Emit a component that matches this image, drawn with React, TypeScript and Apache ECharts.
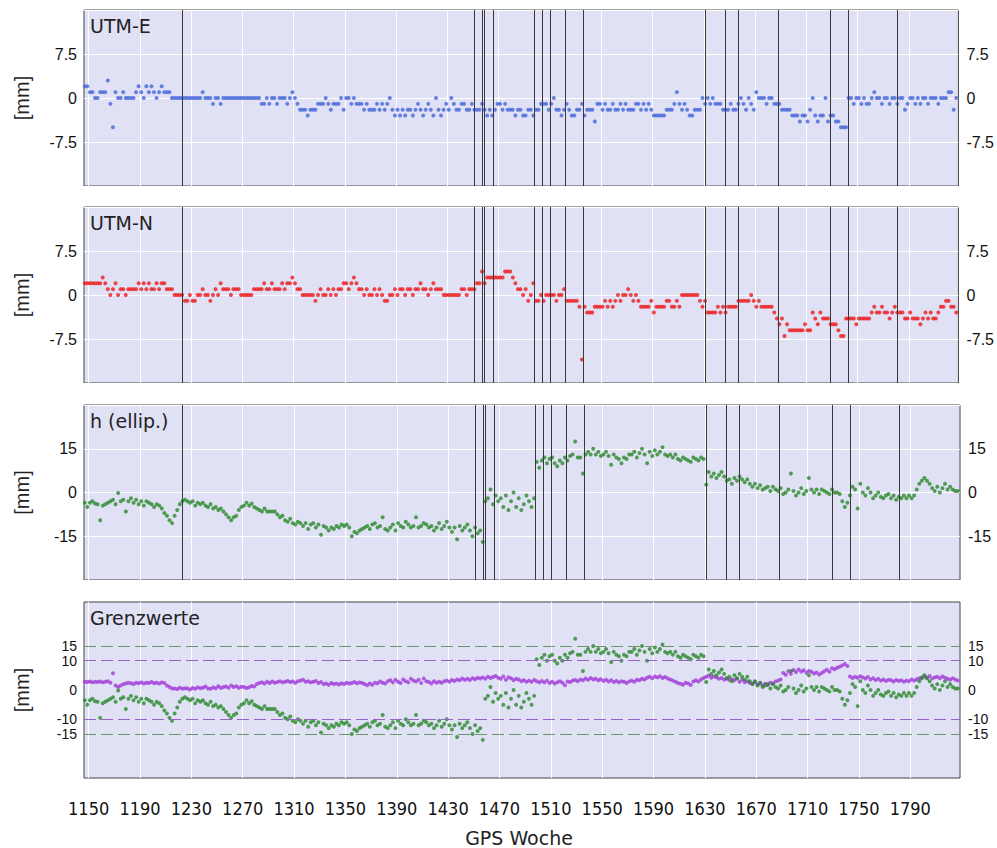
import React, { useEffect, useRef } from "react";
import * as echarts from "echarts";

// GPS weeks: one point every 2 weeks starting at week 1147
const WEEK_START = 1147;
const WEEK_STEP = 2;
const X_MIN = 1146.4;
const X_MAX = 1828.7;
const X_TICKS = [1150, 1190, 1230, 1270, 1310, 1350, 1390, 1430, 1470, 1510, 1550, 1590, 1630, 1670, 1710, 1750, 1790];

// vertical event markers (GPS weeks)
const EVENT_WEEKS = [1223, 1451, 1457, 1459, 1466, 1498, 1504, 1510, 1522, 1536, 1631, 1647, 1657, 1688, 1729, 1743, 1781];

const PANEL_TITLES = ["UTM-E", "UTM-N", "h (ellip.)", "Grenzwerte"];
const Y_LABELS_LIMITS_A = [-15, 0, 15];
const Y_LABELS_LIMITS_B = [-10, 10];
const LIMIT_H = 15;
const LIMIT_2D = 10;

// UTM-E [mm]
const UTM_E = [
  2, 2, 1, 1, 0, 0, 1, 1, 1, 3, -1, -5, 1, 0, 0, 1, 0, 0, 0, 0,
  1, 2, 1, 0, 2, 1, 2, 1, 0, 1, 2, 1, 1, 1, 0, 0, 0, 0, 0, 0,
  0, 0, 0, 0, 0, 0, 1, 0, 0, 0, -1, 0, 0, -1, 0, 0, 0, 0, 0,
  0, 0, 0, 0, 0, 0, 0, 0, 0, 0, -1, -1, 0, -1, 0, 0, -1, 0, 0, 0,
  -1, 0, 1, 0, -1, -2, -2, -2, -3, -2, -2, -2, -1, -1, -1, 0, -1, -2, -1, -1,
  -1, 0, -2, 0, 0, -1, 0, -1, -1, -1, -2, -1, -2, -2, -2, -1, -2, -1, -2, -1,
  0, -2, -3, -2, -3, -2, -3, -2, -2, -3, -2, -1, -2, -3, -2, -1, -2, -3, 0, -2,
  -3, -2, -1, -2, 0, -1, -2, -2, -1, -1, -2, -2, -1, -2, -2, -2, -1, -2, -3, -2,
  -3, -2, -1, -1, -2, -1, -2, -2, -2, -3, -2, -2, -3, -3, -2, -2, -3, -2, -2, -1,
  -1, -1, -2, -1, 0, -2, -2, -3, -2, -1, -2, -3, -3, -2,
  -2, -1, -3, -2, -2, -2, -4, -1, -1, -2, -1, -2, -2, -1, -2, -2, -1, -2, -1, -2,
  -2, -2, -1, -1, -2, -1, -2, -1, -2, -3, -3, -3, -3, -3, -2, -2, -2, -1, 1, -1,
  -2, -1, -2, -3, -3, -2, -2, -2, 0, -1, 0, -1, 0, -1, -1, -1, -2, -2, -2, -1,
  -2, -2, -1, 0, -1, -2, 0, -1, -2, 1, 0, 0, 0, -1, 0, 0, -1, -1, -1, -2,
  -2, -2, -2, -3, -3, -3, -4, -3, -3, -4, -2, 0, -3, -4, -3, -3, 0, -4, -3, -3,
  -4, -4, -5, -5, -5, 0, 0, -1, 0, 0, -1, 0, -1, -1, 0, 1, 0, 0, -1, 0,
  0, -1, 0, 0, -1, 0, 0, -2, -1, 0, 0, -1, 0, -1, 0, 0, -1, 0, 0,
  0, -1, 0, 0, 0, 1, 1, -2, 0,
];

// UTM-N [mm]
const UTM_N = [
  2, 2, 2, 2, 2, 2, 2, 3, 2, 1, 0, 1, 2, 0, 1, 1, 0, 1, 1, 1,
  1, 2, 1, 2, 1, 2, 1, 1, 2, 1, 2, 2, 1, 1, 1, 0, 0, 0, 0, -1,
  -1, 0, -1, -1, 0, 0, 1, 0, 0, -1, 0, 1, 0, 2, 1, 1, 1, 0, 1,
  1, 1, 0, 0, 0, 0, 0, 1, 1, 1, 1, 2, 1, 1, 2, 1, 1, 1, 2, 1,
  2, 2, 3, 2, 1, 1, 0, 0, 0, 0, 0, -1, 0, 1, 0, 0, 1, 0, 1, 0,
  1, 1, 2, 2, 1, 2, 3, 2, 1, 1, 0, 1, 0, 0, 1, 0, 1, 0, -1, -1,
  0, 0, 1, 0, 1, 1, 0, 1, 1, 0, 1, 1, 2, 1, 1, 0, 1, 2, 1, 1,
  1, 0, 0, 0, 0, 0, 0, 0, 1, 1, 0, 1, 1, 1, 2, 2, 4, 2, 3, 3,
  3, 3, 3, 3, 3, 4, 4, 4, 3, 2, 1, 1, 0, 1, -1, 0, 2, -1, -1, 0,
  -1, 0, 0, 0, 0, -1, 0, 0, 1, -1, -1, -1, -1, -1,
  -2, -11, -2, -3, -3, -3, -2, -2, -2, -2, -1, -2, -1, -2, -1, 0, -1, 0, 0, 1,
  0, -1, 0, -1, -2, -2, -2, -2, -1, -3, -2, -2, -2, -2, -1, -1, -2, -2, -1, -2,
  0, 0, 0, 0, 0, 0, 0, -1, -2, -1, -3, -3, -3, -3, -2, -3, -2, -3, -2, -2,
  -2, -2, -1, -1, -1, -1, -1, 0, -1, -2, -1, -2, -2, -2, -2, -2, -3, -4, -5, -4,
  -7, -5, -6, -6, -6, -6, -6, -6, -5, -6, -6, -3, -4, -5, -3, -4, -4, -4, -5, -5,
  -5, -6, -7, -7, -4, -4, -4, -4, -5, -4, -4, -4, -4, -4, -3, -2, -3, -3, -2, -3,
  -3, -4, -3, -2, -3, -3, -3, -4, -4, -3, -4, -4, -4, -5, -4, -3, -4, -3, -4,
  -4, -3, -2, -2, -1, -1, -2, -2, -3,
];

// h (ellipsoidal) [mm]
const HEIGHT = [
  -3.5, -5, -3.5, -3, -3.8, -4, -9.5, -4.5, -4, -3.5, -3, -2.5, -4, -0.2, -3, -2.5, -6.5, -3, -2, -3.5,
  -2.5, -4, -3, -4.5, -3, -3.5, -4, -5, -4, -4.5, -5.5, -7, -8, -9.5, -10.5, -8, -6, -4, -3, -2.5,
  -3, -3.5, -3, -4.5, -3.5, -4, -3.5, -4.5, -5, -4, -5.5, -5, -6, -5.5, -6.5, -7.5, -8.5, -9.5, -8.5,
  -8, -6, -5, -4.5, -3.5, -4.5, -3.8, -5, -5.5, -6, -6.5, -5.5, -6.5, -6.5, -6.5, -6.5, -7.5, -8.5, -8, -9.5,
  -10, -9, -10.5, -11, -10, -10.5, -11.5, -10.5, -12.5, -11, -10.5, -12, -11, -14.5, -11.5, -12, -13, -12, -12.5, -11.5,
  -12, -11, -11.5, -11, -12, -15, -13.5, -14, -13, -12.5, -12, -11.5, -12.5, -11, -10.5, -12, -11.5, -8.5, -12.5, -13,
  -12, -11, -13, -10.5, -11.5, -12, -10, -11, -12, -11.5, -8.5, -12, -11.5, -10.5, -11, -12, -11.5, -13, -12, -10.5,
  -12.5, -11.5, -10, -12, -13.5, -12, -16, -11.5, -13, -12, -11, -13, -15, -12, -14, -13, -17, -3, -2, 1,
  -4, -1, -3, -2, -5, -1, -6, -3, 0, -5, -2, -6, -4, -1, -3, -5, -2, 10.5, 8.5, 11,
  12, 10, 11.5, 12, 10, 9, 11, 10, 12, 11, 12.5, 13, 17.5, 12,
  12, 6.5, 13, 14, 13, 15, 13, 14, 12.5, 13, 14, 12.5, 9.5, 13, 12, 11.5, 10, 12, 11.5, 13,
  13, 14, 12, 13.5, 15, 13, 10, 14, 12.5, 14.5, 13, 14, 15.5, 13, 12.5, 13, 12, 13, 11.5, 11,
  12, 11.5, 11, 10.5, 12, 11.5, 11, 12, 11.5, 2.7, 7, 5.5, 6.5, 5, 6, 7, 5.5, 4, 4.5, 3,
  5, 4, 5.5, 4.5, 3.5, 4.5, 3, 2, 3, 1.5, 2.5, 1, 1.5, 2, 0.5, 2, 1, 0.5, 1.5, -0.5,
  0, 1, 6.5, 0.5, -1, 0, 1.5, -0.5, 0.5, 5, 1, 0, 1, -0.5, 1, 0.5, 0, -0.5, 1, 0,
  0, -0.5, -3, -5, -3.5, -1, 2, 1, -5.5, 3, 0, -1, 1.5, 0, -2, -1, 0, -1.5, -2, -1,
  -0.5, -2, -1, -2.5, -1.5, -2, -1, -2, -1, -2, -1, 1, 3, 4, 5, 4, 3, 1.5, 0.5,
  2, 0, 1.5, 3, 1, 2, 1, 0.5, 0.5,
];

// 2D position deviation [mm] (purple, Grenzwerte panel)
const POS_2D = [
  2.8, 2.7, 2.9, 2.6, 2.8, 2.7, 2.9, 2.6, 2.8, 3, 2.5, 5.7, 1.5, 1, 1.5, 2, 2.2, 2.5, 2.3, 2,
  2.5, 2.3, 2.6, 2.2, 2.5, 2.4, 2.7, 2.3, 2.5, 2.2, 2.6, 2.4, 1.5, 1, 0.5, 0.5, 0.3, 0.8, 0.4, 0.6,
  0.5, 0.2, 0.7, 0.4, 0.9, 0.6, 0.8, 1.2, 0.5, 0.4, 0.9, 0.6, 1.3, 0.7, 1, 1.2, 0.8, 1.5, 1,
  1.3, 0.8, 1.1, 1, 0.7, 0.9, 1.4, 1.2, 2, 2.4, 2.6, 2.2, 2.8, 2.4, 2.9, 2.5, 2.7, 3, 2.6, 2.8,
  3.1, 2.7, 2.9, 2.5, 3, 3.2, 3.5, 2.8, 3, 2.6, 2.8, 3.1, 2.4, 2.7, 2, 2.2, 1.8, 2.4, 2, 2.2,
  1.9, 2.3, 2, 2.5, 2.2, 2.4, 2.7, 2.3, 2.6, 2.4, 2, 1.6, 2.2, 1.8, 2.5, 2.3, 2.9, 2.5, 2.2, 3,
  3.3, 2.6, 3.5, 2.8, 2.4, 3.6, 3, 2.6, 3.8, 3.2, 2.9, 3.5, 2.4, 3.9, 3, 2.7, 2.2, 3, 2.5, 2.8,
  2.5, 3, 3.2, 2.8, 3.4, 3.1, 3.6, 3.3, 3.9, 3.5, 3.8, 3.4, 4, 3.7, 4.2, 3.9, 4.3, 3.8, 4.5, 4.1,
  4.4, 4.8, 4.2, 3.8, 4.6, 3.5, 4.3, 4, 3.3, 3.8, 3.6, 3, 3.3, 2.8, 3.2, 2.8, 3.4, 3, 2.6, 3.1,
  2.6, 3.2, 2.4, 2.8, 2.2, 2.6, 3, 2.5, 1.6, 2.9, 2.7, 3.2, 3.4, 3,
  3.6, 3.3, 3.9, 3.5, 4.1, 3.6, 3.8, 3.3, 3.7, 3.1, 3.5, 2.9, 3.3, 2.7, 3.1, 2.6, 3, 2.8, 2.4, 2.9,
  3.2, 2.8, 3.5, 3.3, 3.8, 3.6, 4.2, 4.5, 4, 4.6, 4.3, 4.7, 4.1, 4.4, 3.9, 3.6, 3.2, 2.8, 2.4, 2.1,
  1.8, 2.5, 2.2, 1.7, 2.9, 3.3, 2.9, 3.6, 4.1, 4.5, 4.9, 4.2, 4.6, 4.3, 3.8, 4.1, 3.6, 3.9, 3.4, 3.7,
  3.3, 3.9, 2.8, 3.5, 2.6, 3, 2.4, 2.2, 2.7, 1.9, 2.3, 1.6, 2.1, 1.7, 2.5, 2.2, 2.9, 3.2, 3.6, 5.8,
  5.2, 6.4, 5.5, 6.8, 6.1, 7, 6.3, 6.7, 5.9, 6.5, 6.2, 5.6, 6, 5.3, 5.8, 6.4, 6.9, 6.2, 7.4, 7.1,
  7.6, 7.9, 8.4, 8.9, 8.2, 4.6, 4.1, 4.5, 4.2, 4.7, 4.3, 3.9, 4.4, 3.6, 4, 3.4, 3.8, 3.2, 3.6, 3.1,
  3.5, 3.3, 2.9, 3.4, 3.1, 3.3, 2.8, 3.2, 3, 3.6, 3.2, 3.7, 4, 4.3, 4.6, 4.2, 4.8, 3.9, 4.3,
  4.5, 4, 4.6, 4.2, 3.8, 3.5, 4, 3.6, 3.2,
];

const GRID_LEFT = 84;
const GRID_RIGHT = 37;
const GRID_TOPS = [10, 207, 405, 602];
const GRID_HEIGHTS = [176, 176, 175, 176];

const COLORS = {
  e: "#4566D8",
  n: "#EE1A1A",
  h: "#2C8A2C",
  p: "#A03CD8",
  bg: "#E1E1F6",
  border: "#444444",
  event: "#3a3a3a",
  limH: "#6A966A",
  limP: "#9A62C4",
};

const toPairs = (arr: number[]) => arr.map((v, i) => [WEEK_START + i * WEEK_STEP, v]);

export default function App() {
  const ref = useRef<HTMLDivElement>(null);

  useEffect(() => {
    if (!ref.current) return;
    const chart = echarts.init(ref.current, undefined, { renderer: "svg" });

    const labelFont = { fontFamily: "Liberation Sans, Arial, sans-serif", fontSize: 16, color: "#111" };

    const yAxis: any[] = [];
    const addAxis = (
      grid: number,
      pos: string,
      min: number,
      max: number,
      interval: number,
      split: boolean,
      custom: number[] | null
    ) => {
      const ax: any = {
        type: "value",
        gridIndex: grid,
        position: pos,
        min,
        max,
        interval,
        axisLine: { show: false },
        axisTick: { show: false },
        splitLine: { show: split, lineStyle: { color: "#ffffff", width: 1 } },
        axisLabel: { ...labelFont, margin: pos === "left" ? 7 : 8 },
      };
      if (custom) {
        ax.axisLabel.customValues = custom;
        ax.axisTick.customValues = custom;
        ax.axisLabel.showMinLabel = true;
        ax.axisLabel.showMaxLabel = true;
        ax.axisLabel.fontSize = 14;
        ax.axisLabel.lineHeight = 12;
        ax.axisLabel.formatter = (v: number) => String(v);
      } else {
        ax.axisLabel.formatter = (v: number) => (v <= min || v >= max ? "" : String(v));
      }
      yAxis.push(ax);
    };
    // panel 1 (indices 0,1), panel 2 (2,3), panel 3 (4,5)
    addAxis(0, "left", -15, 15, 7.5, true, null);
    addAxis(0, "right", -15, 15, 7.5, false, null);
    addAxis(1, "left", -15, 15, 7.5, true, null);
    addAxis(1, "right", -15, 15, 7.5, false, null);
    addAxis(2, "left", -30, 30, 15, true, null);
    addAxis(2, "right", -30, 30, 15, false, null);
    // panel 4 (6,7,8,9): two label sets on each side sharing the same scale
    addAxis(3, "left", -30, 30, 15, false, Y_LABELS_LIMITS_A);
    addAxis(3, "right", -30, 30, 15, false, Y_LABELS_LIMITS_A);
    addAxis(3, "left", -30, 30, 15, false, Y_LABELS_LIMITS_B);
    addAxis(3, "right", -30, 30, 15, false, Y_LABELS_LIMITS_B);

    const xAxis = [0, 1, 2, 3].map((i) => ({
      type: "value",
      gridIndex: i,
      min: X_MIN,
      max: X_MAX,
      axisLine: { show: false },
      axisTick: { show: false, customValues: X_TICKS },
      axisLabel: {
        show: i === 3,
        customValues: X_TICKS,
        formatter: (v: number) => String(v),
        margin: 21,
        fontFamily: "Liberation Sans Narrow, DejaVu Sans Condensed, sans-serif",
        fontSize: 18,
        color: "#111",
      },
      splitLine: { show: true, lineStyle: { color: "#ffffff", width: 1 } },
    }));

    const eventMarks = {
      silent: true,
      symbol: ["none", "none"],
      label: { show: false },
      lineStyle: { color: COLORS.event, width: 1, type: "solid" },
      emphasis: { disabled: true },
      data: EVENT_WEEKS.map((w) => ({ xAxis: w })),
    };

    const scatterBase = { type: "scatter", symbol: "circle", symbolSize: 4, silent: true };

    const series: any[] = [
      { ...scatterBase, name: "UTM-E", xAxisIndex: 0, yAxisIndex: 0, data: toPairs(UTM_E), itemStyle: { color: COLORS.e }, markLine: eventMarks },
      { ...scatterBase, name: "UTM-N", xAxisIndex: 1, yAxisIndex: 2, data: toPairs(UTM_N), itemStyle: { color: COLORS.n }, markLine: eventMarks },
      { ...scatterBase, name: "h", xAxisIndex: 2, yAxisIndex: 4, data: toPairs(HEIGHT), itemStyle: { color: COLORS.h }, markLine: eventMarks },
      {
        ...scatterBase,
        name: "2D",
        xAxisIndex: 3,
        yAxisIndex: 6,
        data: toPairs(POS_2D),
        itemStyle: { color: COLORS.p },
        markLine: {
          silent: true,
          symbol: ["none", "none"],
          label: { show: false },
          lineStyle: { color: COLORS.limP, width: 1.2, type: [12, 5] },
          data: [{ yAxis: LIMIT_2D }, { yAxis: -LIMIT_2D }],
        },
      },
      {
        ...scatterBase,
        name: "h limits",
        xAxisIndex: 3,
        yAxisIndex: 6,
        data: toPairs(HEIGHT),
        itemStyle: { color: COLORS.h },
        markLine: {
          silent: true,
          symbol: ["none", "none"],
          label: { show: false },
          lineStyle: { color: COLORS.limH, width: 1.2, type: [12, 5] },
          data: [{ yAxis: LIMIT_H }, { yAxis: -LIMIT_H }],
        },
      },
    ];

    const graphics: any[] = [];
    GRID_TOPS.forEach((t, i) => {
      graphics.push({
        type: "text",
        x: 90,
        y: t + 16,
        z: 100,
        style: {
          text: PANEL_TITLES[i],
          font: '19px "DejaVu Sans", Verdana, sans-serif',
          fill: "#222",
          align: "left",
          verticalAlign: "middle",
        },
      });
      graphics.push({
        type: "text",
        x: 22,
        y: t + GRID_HEIGHTS[i] / 2,
        rotation: Math.PI / 2,
        z: 100,
        style: {
          text: "[mm]",
          font: '20px "Liberation Sans", Arial, sans-serif',
          fill: "#222",
          align: "center",
          verticalAlign: "middle",
        },
      });
    });
    graphics.push({
      type: "text",
      x: 519,
      y: 838,
      z: 100,
      style: {
        text: "GPS Woche",
        font: '19px "DejaVu Sans", Verdana, sans-serif',
        fill: "#222",
        align: "center",
        verticalAlign: "middle",
      },
    });

    chart.setOption({
      animation: false,
      backgroundColor: "#ffffff",
      grid: GRID_TOPS.map((t, i) => ({
        left: GRID_LEFT,
        right: GRID_RIGHT,
        top: t,
        height: GRID_HEIGHTS[i],
        show: true,
        backgroundColor: COLORS.bg,
        borderColor: COLORS.border,
        borderWidth: 1,
      })),
      xAxis,
      yAxis,
      series,
      graphic: graphics,
    });

    return () => chart.dispose();
  }, []);

  return <div ref={ref} style={{ position: "absolute", left: 0, top: 0, width: 997, height: 848 }} />;
}
